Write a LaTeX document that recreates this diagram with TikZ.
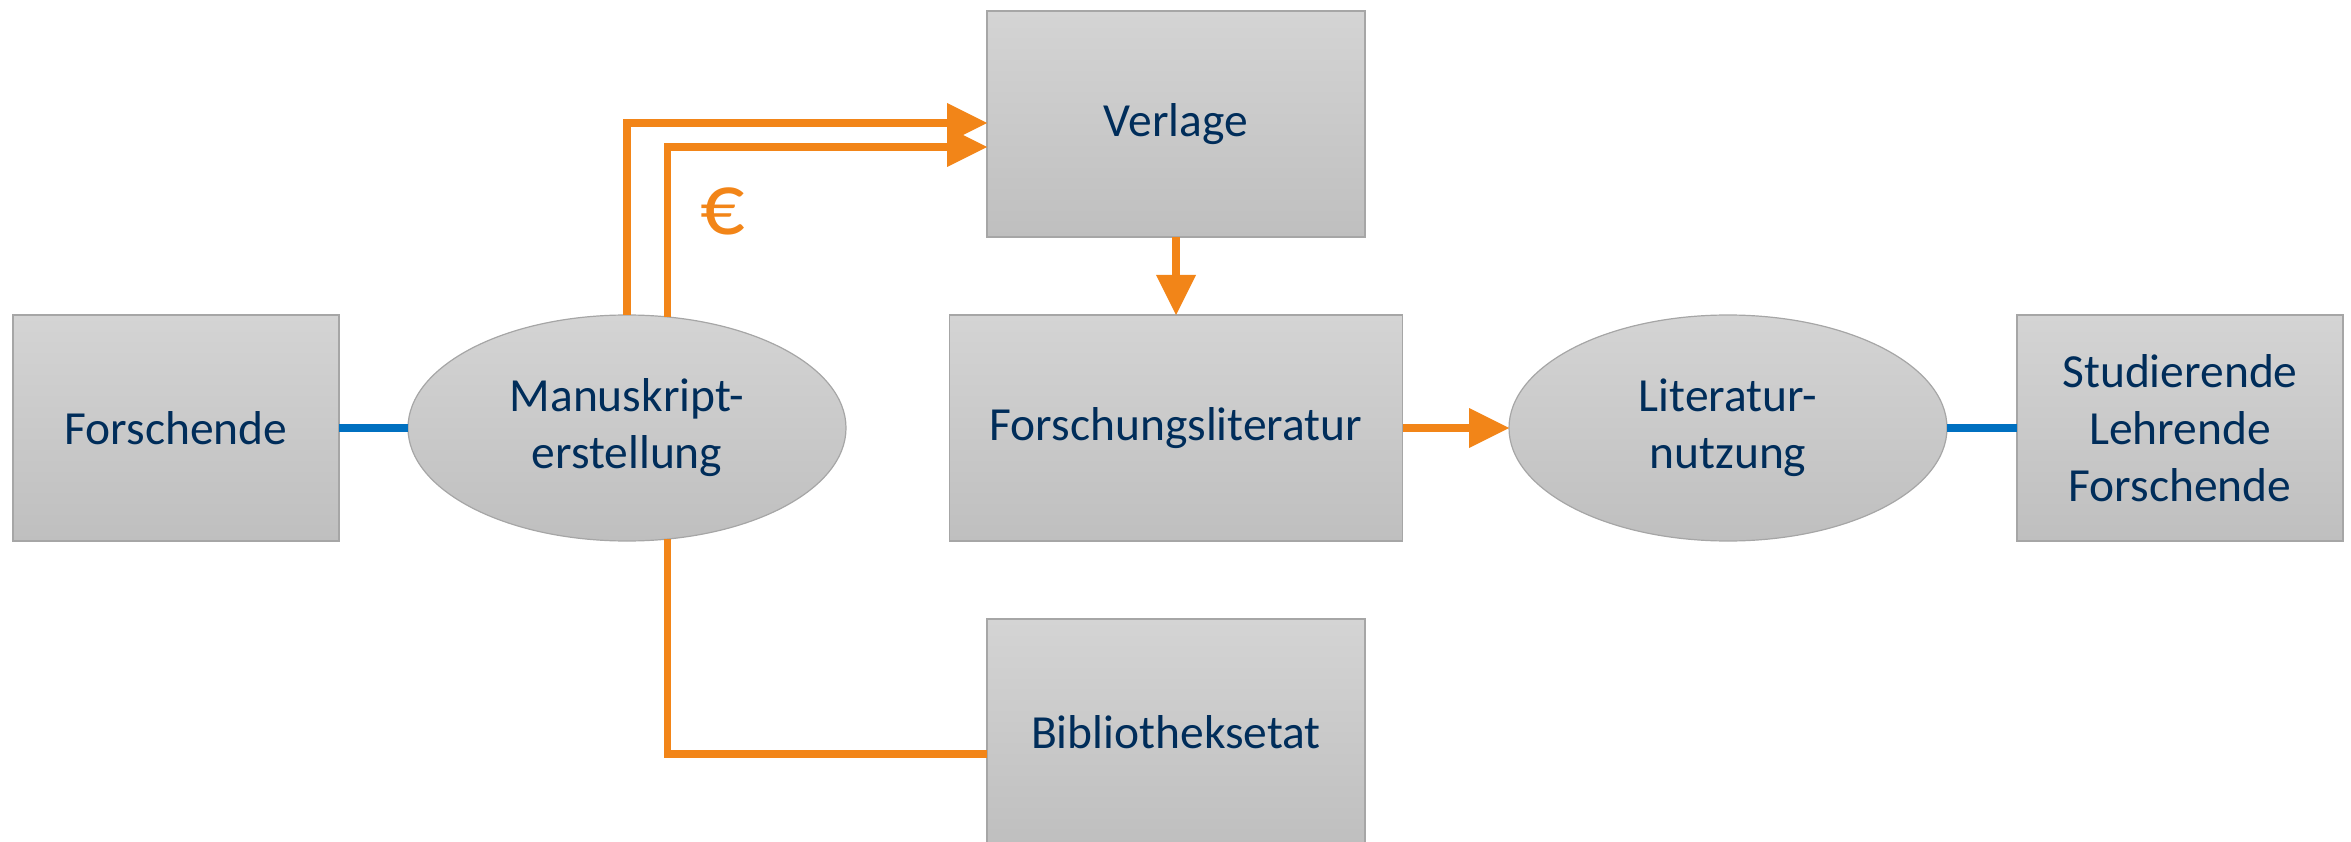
\documentclass[tikz,border=0pt]{standalone}
\usepackage{fontspec}
\setmainfont{Carlito}
\usetikzlibrary{arrows.meta,shapes.geometric}
\definecolor{boxtop}{HTML}{D4D4D4}
\definecolor{boxbot}{HTML}{BFBFBF}
\definecolor{boxline}{HTML}{A6A6A6}
\definecolor{txt}{HTML}{002D5A}
\definecolor{orng}{HTML}{F28518}
\definecolor{blu}{HTML}{0070C0}
\tikzset{
  base/.style={draw=boxline, line width=1.2pt, top color=boxtop, bottom color=boxbot,
    inner sep=0pt, outer sep=0pt, text=txt, align=center,
    font=\fontsize{47.5}{57}\selectfont},
  rbox/.style={base, rectangle, minimum height=226pt},
  ebox/.style={base, ellipse, minimum width=438pt, minimum height=226pt},
  flow/.style={draw=orng, line width=7.5pt},
  flowarr/.style={flow, -{Triangle[length=40pt,width=40pt,line width=0pt]}},
  link/.style={draw=blu, line width=7.5pt}
}
\begin{document}
\begin{tikzpicture}[x=1pt,y=-1pt]
\useasboundingbox (0,0) rectangle (2351,842);
\node[rbox, minimum width=326pt] (forschende) at (176,428) {Forschende};
\node[ebox] (manu) at (627,428) {Manuskript-\\erstellung};
\node[rbox, minimum width=378pt] (verlage) at (1176,124) {Verlage};
\node[rbox, minimum width=453pt] (forsch) at (1176,428) {Forschungsliteratur};
\node[ebox] (lit) at (1728,428) {Literatur-\\nutzung};
\node[rbox, minimum width=326pt] (stud) at (2180,428) {Studierende\\Lehrende\\Forschende};
\node[rbox, minimum width=378pt] (biblio) at (1176,732) {Bibliotheksetat};
\node[text=orng, font=\fontsize{88}{96}\selectfont, inner sep=0pt] (euro) at (723,211) {€};
% connectors
\draw[link] (forschende.east) -- (manu.west);
\draw[link] (lit.east) -- (stud.west);
\draw[flowarr] (manu.north) |- ([yshift=1pt]verlage.west);
\draw[flowarr] (manu.70) |- ([yshift=-23pt]verlage.west);
\draw[flowarr] (verlage.south) -- (verlage.south |- forsch.north);
\draw[flowarr] (forsch.east) -- (lit.west);
\draw[flow] (manu.-70) |- ([yshift=-22pt]biblio.west);
\end{tikzpicture}
\end{document}
